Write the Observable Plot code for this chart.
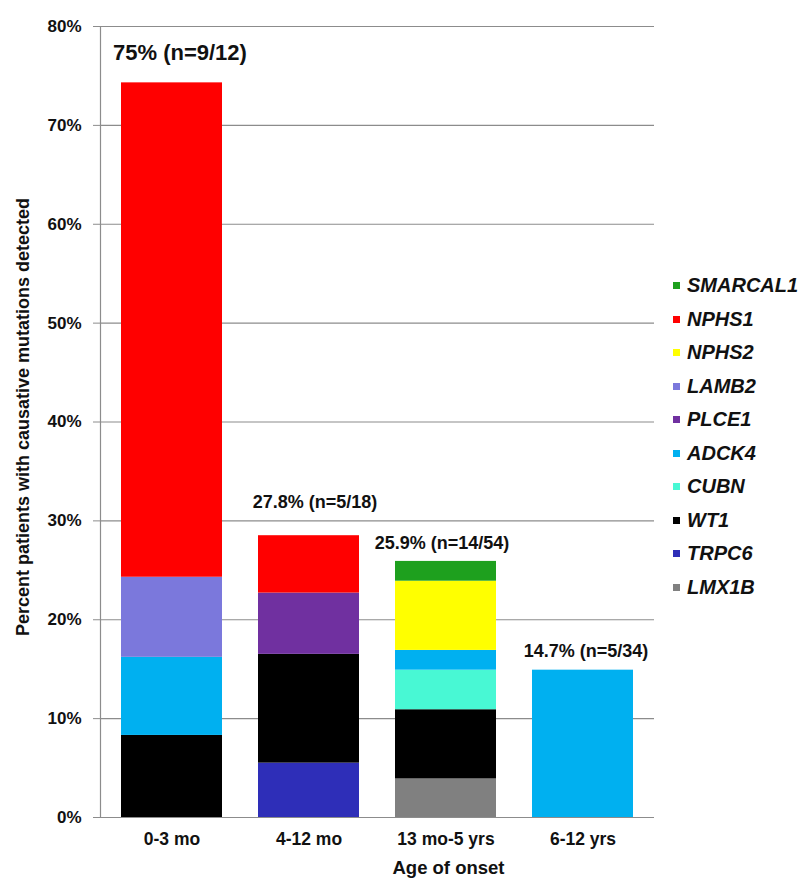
<!DOCTYPE html>
<html>
<head>
<meta charset="utf-8">
<script src="https://cdn.jsdelivr.net/npm/d3@7"></script>
<script src="https://cdn.jsdelivr.net/npm/@observablehq/plot@0.6"></script>
<style>
  html, body { margin: 0; padding: 0; background: #fff; }
  #wrap { position: relative; width: 800px; height: 895px; font-family: "Liberation Sans", Arial, sans-serif; }
  #legend { position: absolute; left: 673px; top: 269px; }
  .item { display: flex; align-items: center; height: 33.5px; }
  .sw { width: 7px; height: 7px; margin-right: 7px; }
  .lab { font-size: 20px; font-weight: bold; font-style: italic; color: #111; }
</style>
</head>
<body>
<div id="wrap"></div>
<script>
// Categories (age of onset)
const ages = ["0-3 mo", "4-12 mo", "13 mo-5 yrs", "6-12 yrs"];
// Genes in stacking order (bottom to top)
const genes = ["LMX1B", "TRPC6", "WT1", "CUBN", "ADCK4", "PLCE1", "LAMB2", "NPHS2", "NPHS1", "SMARCAL1"];
const geneColors = ["#808080", "#2e2eb8", "#000000", "#48f8d4", "#00b0f0", "#7030a0", "#7b78dc", "#ffff00", "#ff0000", "#1ea01e"];
// Percent of patients per gene, per age group
const LMX1B    = [0,    0,    3.9, 0];
const TRPC6    = [0,    5.5,  0,   0];
const WT1      = [8.3,  11.0, 7.0, 0];
const CUBN     = [0,    0,    4.0, 0];
const ADCK4    = [7.9,  0,    2.0, 14.9];
const PLCE1    = [0,    6.2,  0,   0];
const LAMB2    = [8.1,  0,    0,   0];
const NPHS2    = [0,    0,    7.0, 0];
const NPHS1    = [50.0, 5.8,  0,   0];
const SMARCAL1 = [0,    0,    2.0, 0];
// Bar annotations
const totalLabels = ["75% (n=9/12)", "27.8% (n=5/18)", "25.9% (n=14/54)", "14.7% (n=5/34)"];
// Y tick values
const yTicks = [0, 10, 20, 30, 40, 50, 60, 70, 80];

const series = {LMX1B, TRPC6, WT1, CUBN, ADCK4, PLCE1, LAMB2, NPHS2, NPHS1, SMARCAL1};
const rows = [];
genes.forEach(g => ages.forEach((a, i) => { if (series[g][i] > 0) rows.push({age: a, gene: g, value: series[g][i]}); }));
const totals = ages.map((a, i) => ({age: a, total: d3.sum(genes, g => series[g][i]), label: totalLabels[i]}));

const font = "Liberation Sans, Arial, sans-serif";
const labelDy = [-30, -33, -18, -19];
const labelDx = [-59, 6, -4, 3];

const labelMarks = totals.map((t, i) => Plot.text([t], {
  x: "age", y: "total", text: "label",
  dy: labelDy[i], dx: labelDx[i],
  textAnchor: i === 0 ? "start" : "middle",
  fontSize: i === 0 ? 22 : 18, fontWeight: "bold", fill: "#111"
}));

const chart = Plot.plot({
  width: 800,
  height: 895,
  marginLeft: 100,
  marginRight: 146,
  marginTop: 26,
  marginBottom: 78,
  style: {fontFamily: font, background: "#fff"},
  x: {domain: ages, paddingInner: 0.26, paddingOuter: 0.14, label: null},
  y: {domain: [0, 80], label: null},
  color: {domain: genes, range: geneColors},
  marks: [
    Plot.ruleY(yTicks, {stroke: "#8c8c8c", strokeWidth: 1.2}),
    Plot.frame({anchor: "left", stroke: "#8c8c8c", strokeWidth: 1.2}),
    Plot.barY(rows, {x: "age", y: "value", fill: "gene", order: genes}),
    Plot.axisY({ticks: yTicks, tickFormat: d => d + "%", tickSize: 7, tickPadding: 12,
      stroke: "#8c8c8c", fill: "#111", fontSize: 17, fontWeight: "bold", label: null}),
    Plot.axisX({tickSize: 0, tickPadding: 15, fill: "#111", fontSize: 17.5, fontWeight: "bold", label: null}),
    Plot.text(["Age of onset"], {frameAnchor: "bottom", dx: 71, dy: 56, fontSize: 18.5, fontWeight: "bold", fill: "#111"}),
    Plot.text(["Percent patients with causative mutations detected"], {frameAnchor: "left", textAnchor: "middle", rotate: -90, dx: -77, dy: -5, fontSize: 18, fontWeight: "bold", fill: "#111"}),
    ...labelMarks
  ]
});

const wrap = document.getElementById("wrap");
wrap.appendChild(chart);

const legend = document.createElement("div");
legend.id = "legend";
genes.slice().reverse().forEach(g => {
  const it = document.createElement("div");
  it.className = "item";
  const sw = document.createElement("div");
  sw.className = "sw";
  sw.style.background = geneColors[genes.indexOf(g)];
  const lb = document.createElement("span");
  lb.className = "lab";
  lb.textContent = g;
  it.appendChild(sw); it.appendChild(lb);
  legend.appendChild(it);
});
wrap.appendChild(legend);
</script>
</body>
</html>
